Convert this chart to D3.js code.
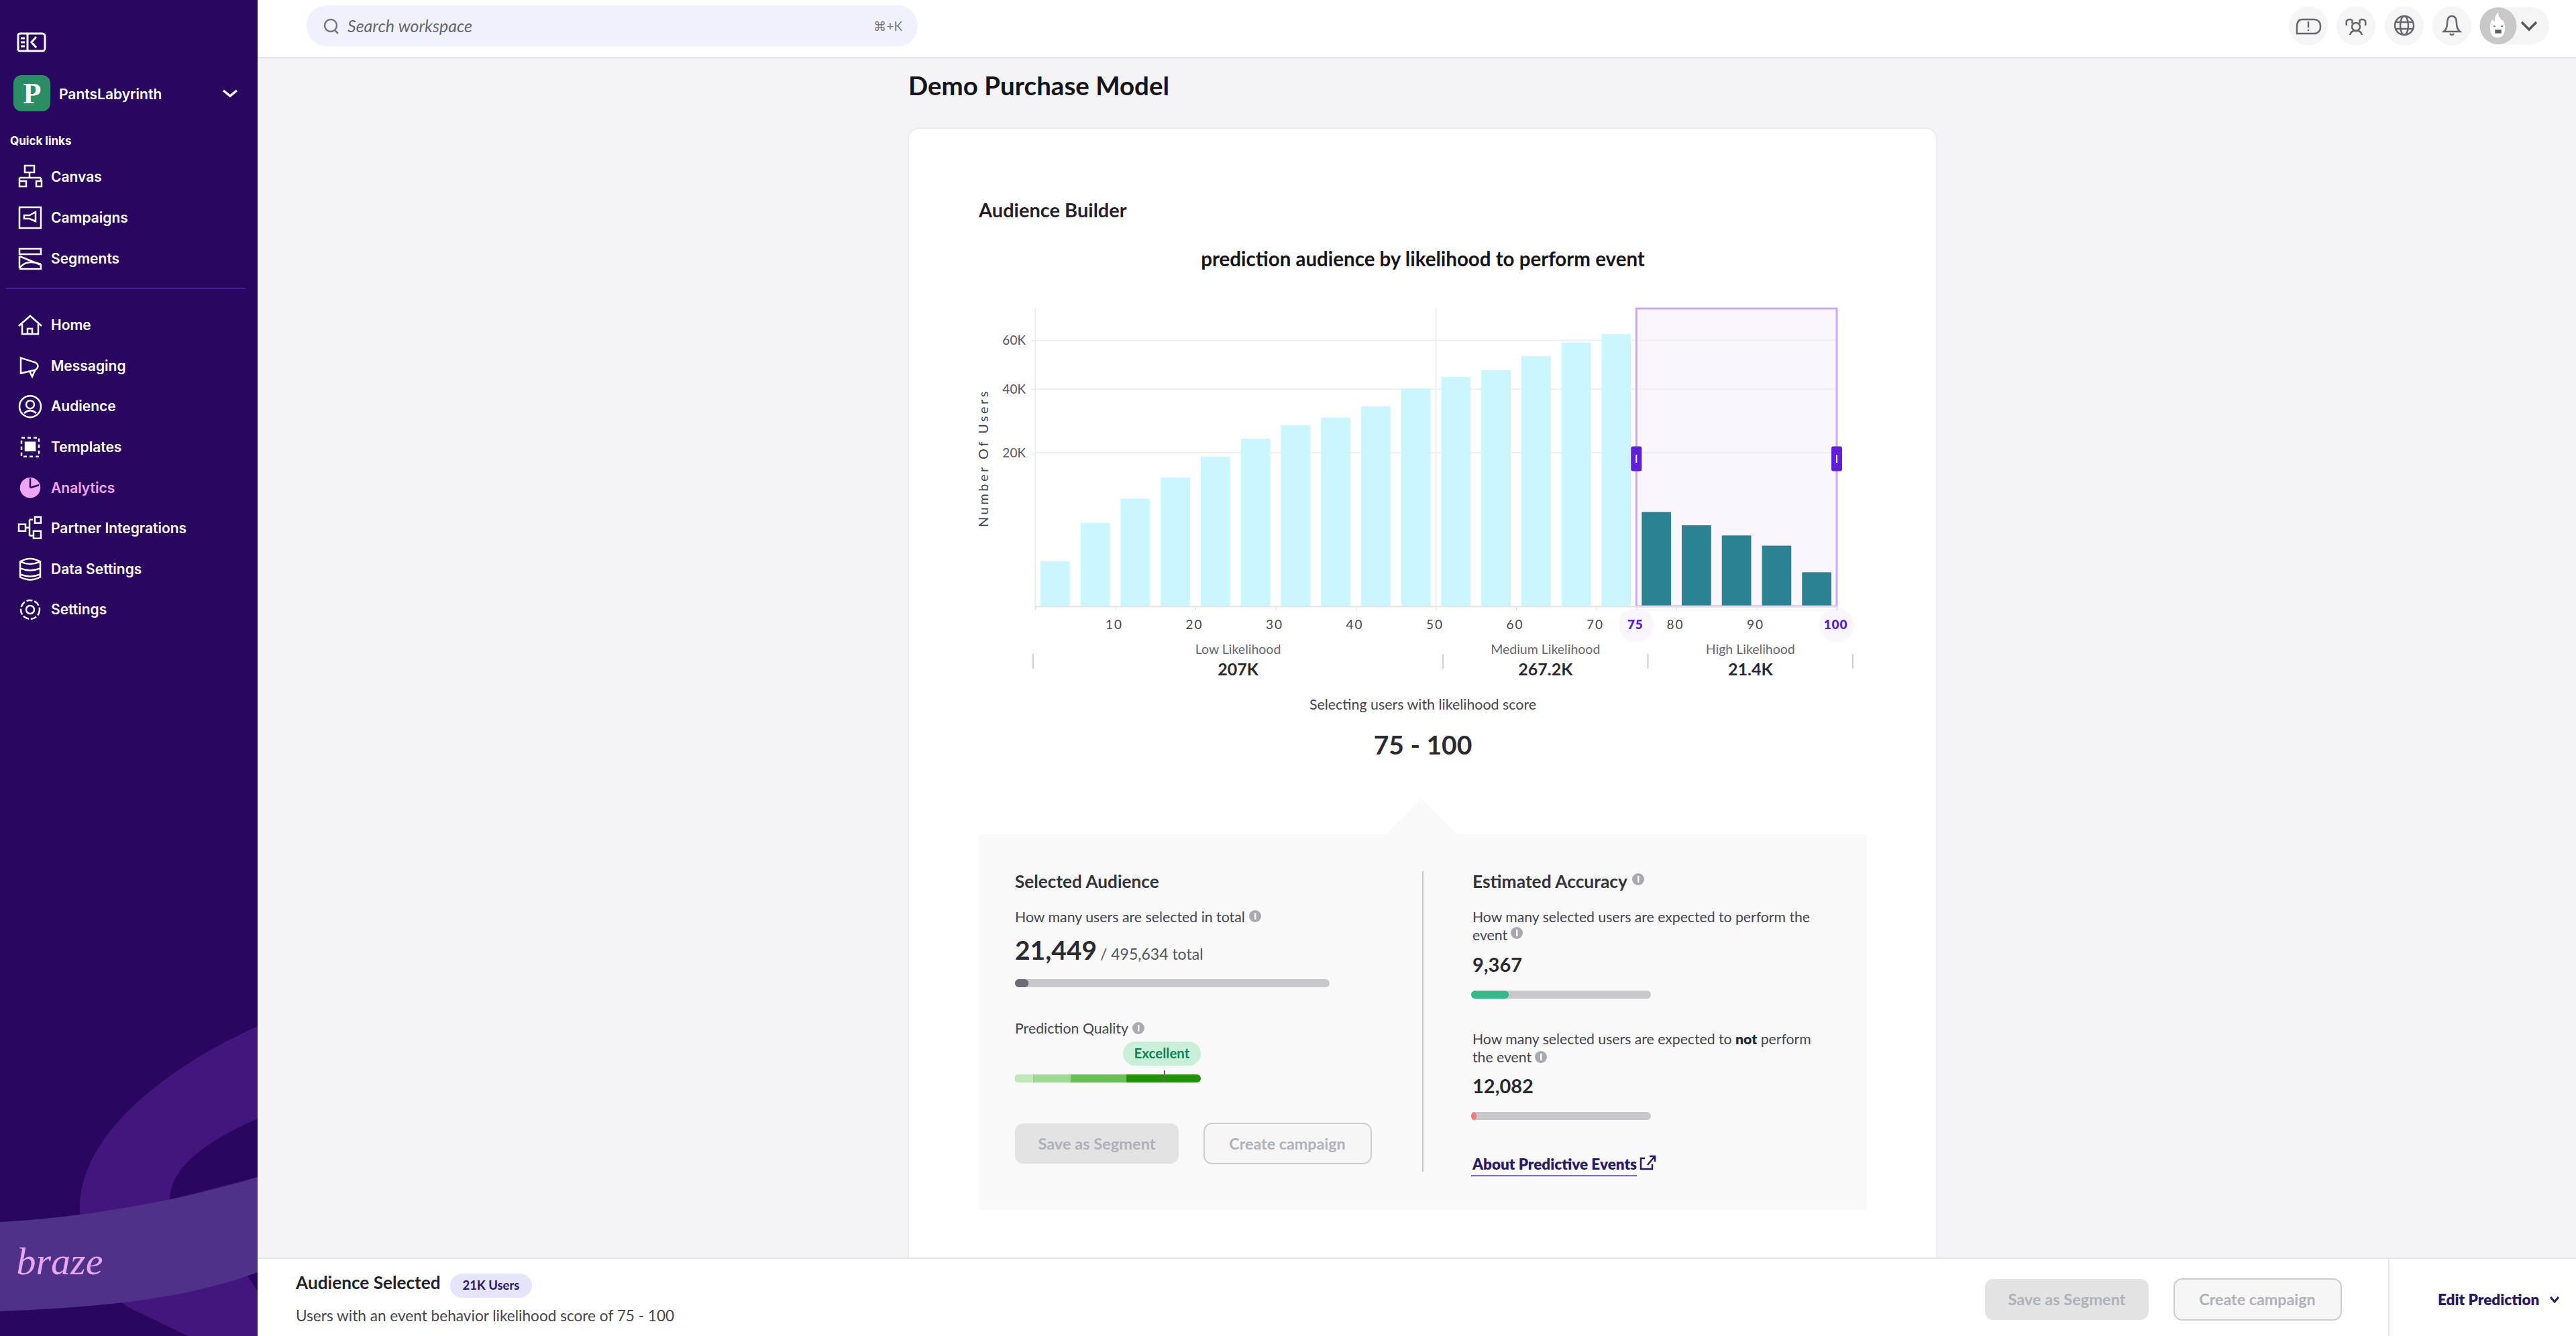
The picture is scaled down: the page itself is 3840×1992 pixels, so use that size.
<!DOCTYPE html>
<html>
<head>
<meta charset="utf-8">
<script src="https://cdn.jsdelivr.net/npm/d3@7"></script>
<style>
html, body { margin: 0; padding: 0; background: #f4f4f6; overflow: hidden; }
text { font-family: Lato, "Noto Sans", sans-serif; }
.nav { font-family: Inter, Lato, sans-serif; }
</style>
</head>
<body>
<div id="chart"></div>
<script>
// values. y axis is a sqrt scale (20K/40K/60K spacing fits it)
const binEnds = [5, 10, 15, 20, 25, 30, 35, 40, 45, 50, 55, 60, 65, 70, 75, 80, 85, 90, 95, 100]
const userCounts = [1710, 5910, 9840, 14060, 19030, 23840, 27790, 30200, 33900, 40250,
                    44640, 47270, 53050, 59010, 62850, 7550, 5570, 4260, 3120, 980]
const selectedRange = [75, 100]
const xTickValues = [10, 20, 30, 40, 50, 60, 70, 75, 80, 90, 100]
const yTickValues = [20000, 40000, 60000]
const likelihoodNames = ["Low Likelihood", "Medium Likelihood", "High Likelihood"]
const likelihoodTotals = ["207K", "267.2K", "21.4K"]
const likelihoodEdges = [0, 50, 75, 100]
const navTop = ["Canvas", "Campaigns", "Segments"]
const navMain = ["Home", "Messaging", "Audience", "Templates", "Analytics", "Partner Integrations", "Data Settings", "Settings"]
const qualitySteps = [10, 30, 60, 100]
const qualityColors = ["#c3e7b8", "#a0d991", "#69bf55", "#1f9400"]
const qualityMarker = 70

const W = 3840, H = 1992
const svg = d3.select("#chart").append("svg").attr("width", W).attr("height", H).style("display", "block")

function label(sel, x, y, str, size, color, weight, anchor) {
    return sel.append("text").attr("x", x).attr("y", y).attr("dy", "0.35em")
        .attr("font-size", size).attr("fill", color).attr("font-weight", weight || 400)
        .attr("text-anchor", anchor || "start").text(str)
}
function rrect(sel, x, y, w, h, r, fill, stroke) {
    return sel.append("rect").attr("x", x).attr("y", y).attr("width", w).attr("height", h).attr("rx", r)
        .attr("fill", fill).attr("stroke", stroke || "none").attr("stroke-width", stroke ? 2 : 0)
}
function infoIcon(sel, x, y) {
    sel.append("circle").attr("cx", x).attr("cy", y).attr("r", 9).attr("fill", "#a9a9b0")
    sel.append("rect").attr("x", x - 1).attr("y", y - 5).attr("width", 2.5).attr("height", 10).attr("fill", "#f9f9f9")
}

// page background + card
svg.append("rect").attr("width", W).attr("height", H).attr("fill", "#f4f4f6")
rrect(svg, 1354, 191, 1533, 1760, 16, "#ffffff", "#ececee")
label(svg, 1354, 129, "Demo Purchase Model", 38.5, "#14141a", 700)
label(svg, 1459, 314, "Audience Builder", 29, "#22222a", 700)
label(svg, 2121, 387, "prediction audience by likelihood to perform event", 29.5, "#14141a", 700, "middle")

// main chart
const x = d3.scaleLinear().domain([0, 100]).range([1543, 2738])
const y = d3.scaleSqrt().domain([0, 75200]).range([904, 460])
const binWidth = x(5) - x(0)
const chart = svg.append("g")

chart.append("rect")
    .attr("x", x(selectedRange[0])).attr("y", y(75200))
    .attr("width", x(selectedRange[1]) - x(selectedRange[0])).attr("height", y(0) - y(75200))
    .attr("fill", "#fbf6fd")

chart.append("g").selectAll("line").data(yTickValues).join("line")
    .attr("x1", x(0)).attr("x2", x(100)).attr("y1", d => y(d)).attr("y2", d => y(d))
    .attr("stroke", "#eeeeee").attr("stroke-width", 2)
chart.append("line").attr("x1", x(50)).attr("x2", x(50)).attr("y1", y(75200)).attr("y2", y(0))
    .attr("stroke", "#eeeeee").attr("stroke-width", 2)
chart.append("line").attr("x1", x(0)).attr("x2", x(0)).attr("y1", y(75200)).attr("y2", y(0))
    .attr("stroke", "#eeeeee").attr("stroke-width", 2)

chart.append("g").selectAll("rect").data(userCounts).join("rect")
    .attr("x", (d, i) => x(binEnds[i]) - binWidth + 8)
    .attr("width", binWidth - 16)
    .attr("y", d => y(d))
    .attr("height", d => y(0) - y(d))
    .attr("fill", (d, i) => binEnds[i] > selectedRange[0] ? "#2b8292" : "#ccf6ff")

chart.append("rect")
    .attr("x", x(selectedRange[0])).attr("y", y(75200))
    .attr("width", x(selectedRange[1]) - x(selectedRange[0])).attr("height", y(0) - y(75200))
    .attr("fill", "none").attr("stroke", "#cba9f0").attr("stroke-width", 3)

// highlight behind the selected tick labels
chart.append("g").selectAll("circle").data(selectedRange).join("circle")
    .attr("cx", d => x(d)).attr("cy", 932).attr("r", 26).attr("fill", "#fbf6fd")

const yAxis = chart.append("g").attr("transform", `translate(${x(0)},0)`)
    .call(d3.axisLeft(y).tickValues(yTickValues).tickSize(6).tickPadding(8).tickFormat(d => d / 1000 + "K"))
yAxis.select(".domain").remove()
yAxis.selectAll("line").attr("stroke", "#dddddd")
yAxis.selectAll("text").attr("font-size", 19).attr("fill", "#55555e")

const xAxis = chart.append("g").attr("transform", `translate(0,${y(0)})`)
    .call(d3.axisBottom(x).tickValues(xTickValues).tickSize(6).tickPadding(15).tickFormat(d3.format("d")))
xAxis.select(".domain").attr("stroke", "#e4e4e8").attr("stroke-width", 2)
xAxis.selectAll("line").attr("stroke", "#dddddd")
xAxis.selectAll("text").attr("font-size", 19).attr("fill", "#44444c").attr("letter-spacing", 2).attr("dx", -2)
xAxis.selectAll(".tick").filter(d => selectedRange.includes(d)).select("text")
    .attr("fill", "#5a22d8").attr("font-weight", 800).attr("letter-spacing", 0.8)

chart.append("text").attr("transform", "translate(1466,683) rotate(-90)").attr("dy", "0.35em")
    .attr("text-anchor", "middle").attr("font-size", 20).attr("letter-spacing", 3.5).attr("fill", "#44444c")
    .text("Number Of Users")

// range handles
const handles = chart.append("g").selectAll("g").data(selectedRange).join("g")
    .attr("transform", d => `translate(${x(d)},684)`)
handles.append("rect").attr("x", -8).attr("y", -18.5).attr("width", 16).attr("height", 37).attr("rx", 3).attr("fill", "#5f1fd8")
handles.append("rect").attr("x", -1).attr("y", -6).attr("width", 2).attr("height", 12).attr("fill", "#ffffff")

// likelihood brackets, on their own wider scale
const xBands = d3.scaleLinear().domain([0, 100]).range([1540, 2762])
chart.append("g").selectAll("line").data(likelihoodEdges).join("line")
    .attr("x1", d => xBands(d)).attr("x2", d => xBands(d)).attr("y1", 975).attr("y2", 997)
    .attr("stroke", "#cfcfd3").attr("stroke-width", 2)
likelihoodNames.forEach((name, i) => {
    const cx = (xBands(likelihoodEdges[i]) + xBands(likelihoodEdges[i + 1])) / 2
    label(chart, cx, 968, name, 19.5, "#66666e", 400, "middle")
    label(chart, cx, 998, likelihoodTotals[i], 25, "#2a2a32", 700, "middle")
})

label(svg, 2121, 1051, "Selecting users with likelihood score", 21.4, "#44444c", 400, "middle")
label(svg, 2121, 1111, selectedRange.join(" - "), 39, "#2a2a32", 700, "middle")

// detail panel
const panel = svg.append("g")
panel.append("path").attr("d", "M2066,1245 L2119,1190 L2173,1245 Z").attr("fill", "#f9f9f9")
panel.append("rect").attr("x", 1459).attr("y", 1244).attr("width", 1324).attr("height", 560).attr("fill", "#f9f9f9")
panel.append("line").attr("x1", 2121).attr("x2", 2121).attr("y1", 1299).attr("y2", 1747).attr("stroke", "#c8c8cc").attr("stroke-width", 2)

function progress(px, py, w, frac, color) {
    const pxScale = d3.scaleLinear().domain([0, 1]).range([0, w])
    rrect(panel, px, py, w, 12, 6, "#c8c8ca")
    rrect(panel, px, py, pxScale(frac), 12, 6, color)
}

label(panel, 1513, 1315, "Selected Audience", 26.2, "#33333b", 700)
label(panel, 1513, 1368, "How many users are selected in total", 21.3, "#44444c")
infoIcon(panel, 1871, 1366)
label(panel, 1513, 1417, "21,449", 39, "#2a2a32", 700)
label(panel, 1640, 1423, "/ 495,634 total", 23, "#55555e")
progress(1513, 1460, 469, 21449 / 495634, "#6b6b75")
label(panel, 1513, 1534, "Prediction Quality", 21.3, "#44444c")
infoIcon(panel, 1697, 1533)
rrect(panel, 1674, 1553, 116, 36, 18, "#c9efdb")
label(panel, 1732, 1571, "Excellent", 20.5, "#12804f", 700, "middle")

const q = d3.scaleLinear().domain([0, 100]).range([1513, 1790])
rrect(panel, q(0), 1602, q(100) - q(0), 12, 6, qualityColors[3])
panel.append("g").selectAll("rect").data(qualitySteps.slice(0, 3)).join("rect")
    .attr("x", (d, i) => q(i ? qualitySteps[i - 1] : 0) + (i ? 0 : 5))
    .attr("width", (d, i) => q(d) - q(i ? qualitySteps[i - 1] : 0) - (i ? 0 : 5))
    .attr("y", 1602).attr("height", 12)
    .attr("fill", (d, i) => qualityColors[i])
rrect(panel, q(0), 1602, 12, 12, 6, qualityColors[0])
panel.append("line").attr("x1", q(qualityMarker) + 29).attr("x2", q(qualityMarker) + 29).attr("y1", 1596).attr("y2", 1614)
    .attr("stroke", "#666666").attr("stroke-width", 2)

rrect(panel, 1513, 1675, 244, 60, 12, "#e3e3e3")
label(panel, 1635, 1706, "Save as Segment", 23.6, "#b0b0b8", 700, "middle")
rrect(panel, 1795, 1675, 249, 60, 12, "#f6f6f6", "#cccccc")
label(panel, 1919, 1706, "Create campaign", 23.3, "#b0b0b8", 700, "middle")

label(panel, 2195, 1315, "Estimated Accuracy", 26.4, "#33333b", 700)
infoIcon(panel, 2442, 1311)
label(panel, 2195, 1368, "How many selected users are expected to perform the", 21.2, "#44444c")
label(panel, 2195, 1395, "event", 21.2, "#44444c")
infoIcon(panel, 2261, 1391)
label(panel, 2195, 1439, "9,367", 29, "#2a2a32", 700)
progress(2193, 1477, 268, 9367 / 21449 * 0.48, "#35b98a")
const notLine = label(panel, 2195, 1550, "How many selected users are expected to ", 21.2, "#44444c")
notLine.append("tspan").attr("font-weight", 800).attr("fill", "#2a2a32").text("not")
notLine.append("tspan").text(" perform")
label(panel, 2195, 1577, "the event", 21.2, "#44444c")
infoIcon(panel, 2297, 1576)
label(panel, 2195, 1620, "12,082", 29, "#2a2a32", 700)
progress(2193, 1658, 268, 0.03, "#f47a82")
label(panel, 2195, 1736, "About Predictive Events", 22.5, "#2a1a66", 800)
panel.append("line").attr("x1", 2193).attr("x2", 2440).attr("y1", 1753).attr("y2", 1753).attr("stroke", "#7a6ec8").attr("stroke-width", 2)
panel.append("path").attr("d", "M2452,1727 h-6 v16 h17 v-7 M2456,1737 L2466,1725 M2459,1724 h8 v8")
    .attr("fill", "none").attr("stroke", "#2a1a66").attr("stroke-width", 2.5)

// top bar
svg.append("rect").attr("width", W).attr("height", 86).attr("fill", "#ffffff")
svg.append("line").attr("x1", 384).attr("x2", W).attr("y1", 86).attr("y2", 86).attr("stroke", "#e4e4e6").attr("stroke-width", 2)
rrect(svg, 457, 8, 911, 61, 30, "#eff2fd")
svg.append("circle").attr("cx", 493).attr("cy", 38).attr("r", 9).attr("fill", "none").attr("stroke", "#77777f").attr("stroke-width", 2.5)
svg.append("line").attr("x1", 499).attr("y1", 45).attr("x2", 504).attr("y2", 50).attr("stroke", "#77777f").attr("stroke-width", 2.5)
label(svg, 518, 39, "Search workspace", 25, "#66666e").attr("font-style", "italic")
label(svg, 1345, 39, "⌘+K", 19, "#77777f", 400, "end")

const topIcons = [3441, 3512, 3584, 3655]
svg.append("g").selectAll("circle").data(topIcons).join("circle")
    .attr("cx", d => d).attr("cy", 38.5).attr("r", 29).attr("fill", "#f5f5f5")
const ic = svg.append("g").attr("fill", "none").attr("stroke", "#66666e").attr("stroke-width", 2.5)
ic.append("path").attr("d", "M3432,29 h18 a9,9 0 0 1 9,9 v3 a9,9 0 0 1 -9,9 h-26 v-10 q0,-11 8,-11")
ic.append("path").attr("d", "M3441,32 v9 M3441,44 v2")
ic.append("circle").attr("cx", 3512).attr("cy", 40).attr("r", 6)
ic.append("path").attr("d", "M3503,52 q2,-7 9,-6 q7,-1 9,6 M3498,38 q-2,-10 6,-9 q4,1 2,6 M3526,38 q2,-10 -6,-9 q-4,1 -2,6")
ic.append("circle").attr("cx", 3584).attr("cy", 38).attr("r", 14)
ic.append("ellipse").attr("cx", 3584).attr("cy", 38).attr("rx", 6).attr("ry", 14)
ic.append("path").attr("d", "M3570,33 h28 M3570,43 h28")
ic.append("path").attr("d", "M3643,47 q5,-4 5,-12 q0,-11 7,-11 q7,0 7,11 q0,8 5,12 z M3652,50 q3,4 6,0")
rrect(svg, 3697, 10.5, 103, 56, 28, "#f5f5f5")
svg.append("circle").attr("cx", 3724).attr("cy", 38.5).attr("r", 27.5).attr("fill", "#c8c8c8")
svg.append("path").attr("d", "M3712,44 q-1,-10 4,-16 q0,4 3,4 q-1,-8 5,-14 q0,7 4,10 q1,3 3,2 q4,6 3,14 q-1,12 -11,12 q-10,0 -11,-12 z").attr("fill", "#ffffff")
svg.append("path").attr("d", "M3717,39 h3 M3728,39 h3 M3720,45 h8 v4 h-8 z").attr("fill", "#55606a").attr("stroke", "#55606a").attr("stroke-width", 1.5)
svg.append("path").attr("d", "M3759,33 l11,11 l11,-11").attr("fill", "none").attr("stroke", "#55555e").attr("stroke-width", 3.5)

// footer
svg.append("rect").attr("x", 384).attr("y", 1876).attr("width", W - 384).attr("height", H - 1876).attr("fill", "#ffffff")
svg.append("line").attr("x1", 384).attr("x2", W).attr("y1", 1876).attr("y2", 1876).attr("stroke", "#e4e4e6").attr("stroke-width", 2)
label(svg, 441, 1913, "Audience Selected", 26.2, "#22222a", 700)
rrect(svg, 671, 1899, 122, 36, 18, "#e4e4fa")
label(svg, 732, 1917, "21K Users", 18.5, "#2a1a66", 700, "middle")
label(svg, 441, 1962, "Users with an event behavior likelihood score of 75 - 100", 22.6, "#44444c")
rrect(svg, 2959, 1907, 244, 61, 12, "#e3e3e3")
label(svg, 3081, 1938, "Save as Segment", 23.6, "#b0b0b8", 700, "middle")
rrect(svg, 3241, 1907, 249, 61, 12, "#f6f6f6", "#cccccc")
label(svg, 3365, 1938, "Create campaign", 23.3, "#b0b0b8", 700, "middle")
svg.append("line").attr("x1", 3561).attr("x2", 3561).attr("y1", 1876).attr("y2", H).attr("stroke", "#e4e4e6").attr("stroke-width", 2)
label(svg, 3634, 1938, "Edit Prediction", 22.6, "#2a1a66", 800)
svg.append("path").attr("d", "M3802,1934 l6,7 l6,-7").attr("fill", "none").attr("stroke", "#2a1a66").attr("stroke-width", 3)

// sidebar
const side = svg.append("g")
side.append("rect").attr("width", 384).attr("height", H).attr("fill", "#2a075f")
const clip = side.append("clipPath").attr("id", "sideClip")
clip.append("rect").attr("width", 384).attr("height", H)
const swoosh = side.append("g").attr("clip-path", "url(#sideClip)")
swoosh.append("path").attr("fill", "#43167d")
    .attr("d", "M384,1530 C230,1600 119,1700 119,1800 C119,1870 160,1930 193,1950 L280,1992 L384,1992 L384,1925 L360,1890 L384,1830 L384,1755 L253,1789 C253,1740 310,1700 384,1668 Z")
swoosh.append("path").attr("fill", "#4f3288")
    .attr("d", "M0,1822 C130,1815 270,1790 384,1755 L384,1897 C270,1940 130,1950 0,1955 Z")

side.append("path").attr("d", "M30,50 h33 a4,4 0 0 1 4,4 v18 a4,4 0 0 1 -4,4 h-33 a3,3 0 0 1 -3,-4 v-18 a3,3 0 0 1 3,-4 z M41,50 v26 M54,55 l-7,8 l7,8 M31,57 h6 M31,63 h6 M31,69 h6")
    .attr("fill", "none").attr("stroke", "#ffffff").attr("stroke-width", 3)
rrect(side, 20, 112, 55, 54, 12, "#2a8d63")
side.append("text").attr("x", 48).attr("y", 139).attr("dy", "0.35em").attr("text-anchor", "middle")
    .attr("font-size", 44).attr("fill", "#ffffff").attr("font-weight", 700).style("font-family", "Liberation Serif").text("P")
label(side, 88, 141, "PantsLabyrinth", 21, "#ffffff", 600).attr("class", "nav")
side.append("path").attr("d", "M333,135 l10,8 l10,-8").attr("fill", "none").attr("stroke", "#ffffff").attr("stroke-width", 3.5)
label(side, 15, 210, "Quick links", 17, "#ffffff", 700).attr("class", "nav")
side.append("line").attr("x1", 9).attr("x2", 366).attr("y1", 430).attr("y2", 430).attr("stroke", "#432098").attr("stroke-width", 2)

const navY = d3.scalePoint().domain(navMain).range([485, 909])
const navTopY = d3.scalePoint().domain(navTop).range([264, 386])
navTop.forEach(n => label(side, 76, navTopY(n), n, 21, "#ffffff", 600).attr("class", "nav"))
navMain.forEach(n => label(side, 76, navY(n), n, 21, n === "Analytics" ? "#f0a6f5" : "#ffffff", 600).attr("class", "nav"))

// nav icons, roughly drawn
function navIcon(cy, color) {
    return side.append("g").attr("transform", `translate(45,${cy})`)
        .attr("fill", "none").attr("stroke", color || "#ffffff").attr("stroke-width", 2.5)
}
navIcon(navTopY("Canvas")).append("path").attr("d", "M-8,-17 h14 v10 h-14 z M-1,-7 v8 M-16,1 h32 M-16,1 v5 M16,1 v5 M-16,6 h10 v8 h-10 z M9,6 h8 v8 h-8 z")
navIcon(navTopY("Campaigns")).append("path").attr("d", "M-16,-16 h32 v31 h-32 z M-9,-4 h8 l9,-5 v14 l-9,-4 h-8 z")
navIcon(navTopY("Segments")).append("path").attr("d", "M-16,-15 h32 v8 h-32 z M-16,-4 l32,13 M-16,14 q10,-14 32,-6 M-16,-4 v18 M16,8 v7 h-32")
navIcon(navY("Home")).append("path").attr("d", "M-17,1 L0,-14 L17,1 M-12,-2 v15 h24 v-15 M-4,13 v-8 h7 v8")
navIcon(navY("Messaging")).append("path").attr("d", "M-14,-12 L8,-5 Q15,0 8,6 L-14,11 Z M-1,8 L3,16 L7,7")
const aud = navIcon(navY("Audience"))
aud.append("circle").attr("r", 16)
aud.append("circle").attr("cy", -3).attr("r", 6)
aud.append("path").attr("d", "M-9,10 q9,-8 18,0")
const tpl = navIcon(navY("Templates"))
tpl.append("rect").attr("x", -13).attr("y", -14).attr("width", 26).attr("height", 28).attr("stroke-dasharray", "5 4")
tpl.append("rect").attr("x", -7).attr("y", -7).attr("width", 14).attr("height", 12).attr("fill", "#ffffff")
const ana = navIcon(navY("Analytics"), "#f0a6f5")
ana.append("circle").attr("r", 14).attr("fill", "#f0a6f5")
ana.append("path").attr("d", "M0,0 V-14 M0,0 L13,-4").attr("stroke", "#2a075f")
navIcon(navY("Partner Integrations")).append("path").attr("d", "M-17,-6 h10 v10 h-10 z M-7,-1 h6 M-1,-13 v24 M-1,-13 h5 M-1,11 h5 M5,4 h11 v11 h-11 z M7,-17 h9 v9 h-9 z")
const db = navIcon(navY("Data Settings"))
db.append("path").attr("d", "M-15,-11 q15,-9 30,0 v23 q-15,8 -30,0 z M-15,-11 q15,7 30,0 M-15,-1 q15,6 30,0 M-15,8 q15,6 30,0")
const gear = navIcon(navY("Settings"))
gear.append("circle").attr("r", 14).attr("stroke-dasharray", "9 3")
gear.append("circle").attr("r", 6)

side.append("text").attr("x", 89).attr("y", 1880).attr("dy", "0.35em").attr("text-anchor", "middle")
    .attr("font-size", 58).attr("fill", "#e9a6f4").attr("font-style", "italic").style("font-family", "Liberation Serif").text("braze")
</script>
</body>
</html>
